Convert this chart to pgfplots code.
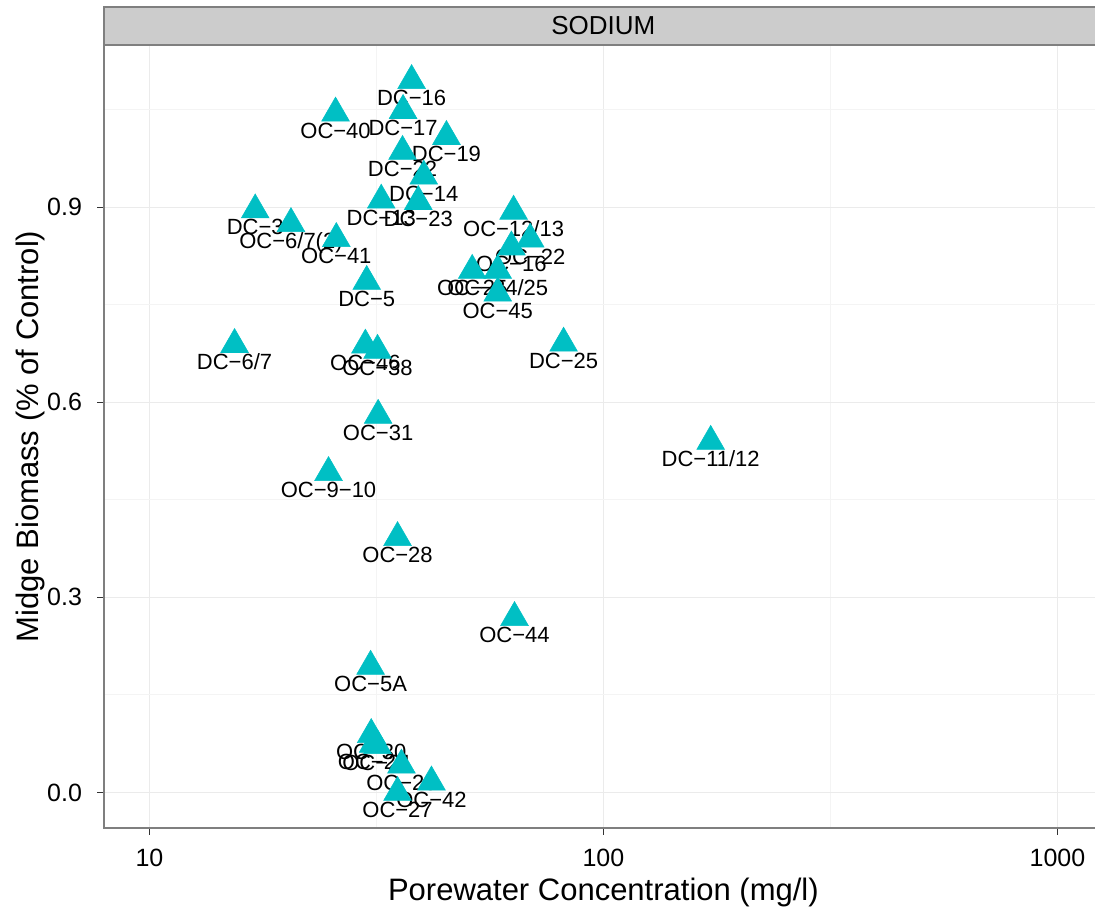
\documentclass[border=0pt]{standalone}
\usepackage{pgfplots}
\pgfplotsset{compat=1.18}
\usepackage{pgfplotstable}
\usepackage{fontspec}
\setmainfont{Liberation Sans}
\definecolor{ggteal}{HTML}{00BFC4}
\definecolor{grey50}{HTML}{7F7F7F}
\definecolor{grey80}{HTML}{CCCCCC}
\definecolor{grey90}{HTML}{EBEBEB}
\definecolor{grey95}{HTML}{F4F4F4}
\definecolor{grey20}{HTML}{333333}

\pgfplotstableread{
x y label
37.8 1.095 DC−16
25.7 1.045 OC−40
36.2 1.049 DC−17
45.1 1.009 DC−19
36.1 0.986 DC−22
40.2 0.948 DC−14
32.4 0.911 DC−13
39.1 0.909 DC−23
17.1 0.896 DC−3
20.5 0.875 OC−6/7(2)
25.8 0.852 OC−41
30.1 0.786 DC−5
63.4 0.894 OC−12/13
69.0 0.851 OC−22
62.7 0.839 OC−16
51.4 0.803 OC−25
58.5 0.803 OC−24/25
58.5 0.768 OC−45
15.4 0.689 DC−6/7
29.9 0.688 OC−46
31.8 0.680 OC−38
81.7 0.691 DC−25
31.9 0.580 OC−31
172.3 0.540 DC−11/12
24.8 0.492 OC−9−10
35.2 0.392 OC−28
63.7 0.269 OC−44
30.7 0.194 OC−5A
30.8 0.089 OC−30
31.1 0.074 OC−24
31.8 0.072 OC−21
35.9 0.042 OC−23
41.8 0.016 OC−42
35.2 0.000 OC−27
}\pts

\begin{document}
\begin{tikzpicture}
\begin{axis}[
  at={(0,0)}, anchor=south west,
  scale only axis,
  width=749.1pt, height=587.25pt,
  xmode=log,
  xmin=7.943, xmax=1258.9,
  ymin=-0.05475, ymax=1.14975,
  xtick={10,100,1000},
  xticklabels={10,100,1000},
  ytick={0,0.3,0.6,0.9},
  yticklabels={0.0,0.3,0.6,0.9},
  minor xtick={31.62,316.2},
  minor ytick={0.15,0.45,0.75,1.05},
  grid=both,
  major grid style={draw=grey90, line width=0.9pt},
  minor grid style={draw=grey95, line width=0.9pt},
  minor tick length=0pt,
  major tick length=5pt,
  tick align=outside,
  xtick pos=bottom, ytick pos=left,
  tick style={draw=grey20, line width=0.8pt},
  axis line style={draw=grey50, line width=1.1pt},
  /pgf/number format/assume math mode=true,
  ticklabel style={font=\fontsize{18.75}{22}\selectfont, text=black},
  xticklabel style={yshift=-7.5pt},
  yticklabel style={xshift=-8pt},
  xlabel={Porewater Concentration (mg/l)},
  ylabel={Midge Biomass (\% of Control)},
  label style={font=\fontsize{23.25}{27}\selectfont},
  xlabel style={at={([yshift=-54pt]axis description cs:0.5,0)}, anchor=base},
  ylabel style={at={([xshift=-49.5pt]axis description cs:0,0.5)}, anchor=base, rotate=0},
  clip=false,
]
\addplot[only marks, mark=triangle*, mark size=12pt, ggteal,
  mark options={draw=none, fill=ggteal},
  point meta=explicit symbolic,
  nodes near coords,
  nodes near coords style={font=\fontsize{16.5}{19}\selectfont, text=black, anchor=base, yshift=-18.75pt, inner sep=0pt},
] table[x=x, y=y, meta=label] {\pts};
\end{axis}
\draw[draw=grey50, fill=grey80, line width=1.1pt] (0,587.25pt) rectangle (749.1pt,615.75pt);
\node[font=\fontsize{19.5}{23}\selectfont, anchor=center] at (374.55pt,601.5pt) {SODIUM};
\pgfresetboundingbox
\useasboundingbox (-78pt,-63.75pt) rectangle (743.25pt,621pt);
\end{tikzpicture}
\end{document}
